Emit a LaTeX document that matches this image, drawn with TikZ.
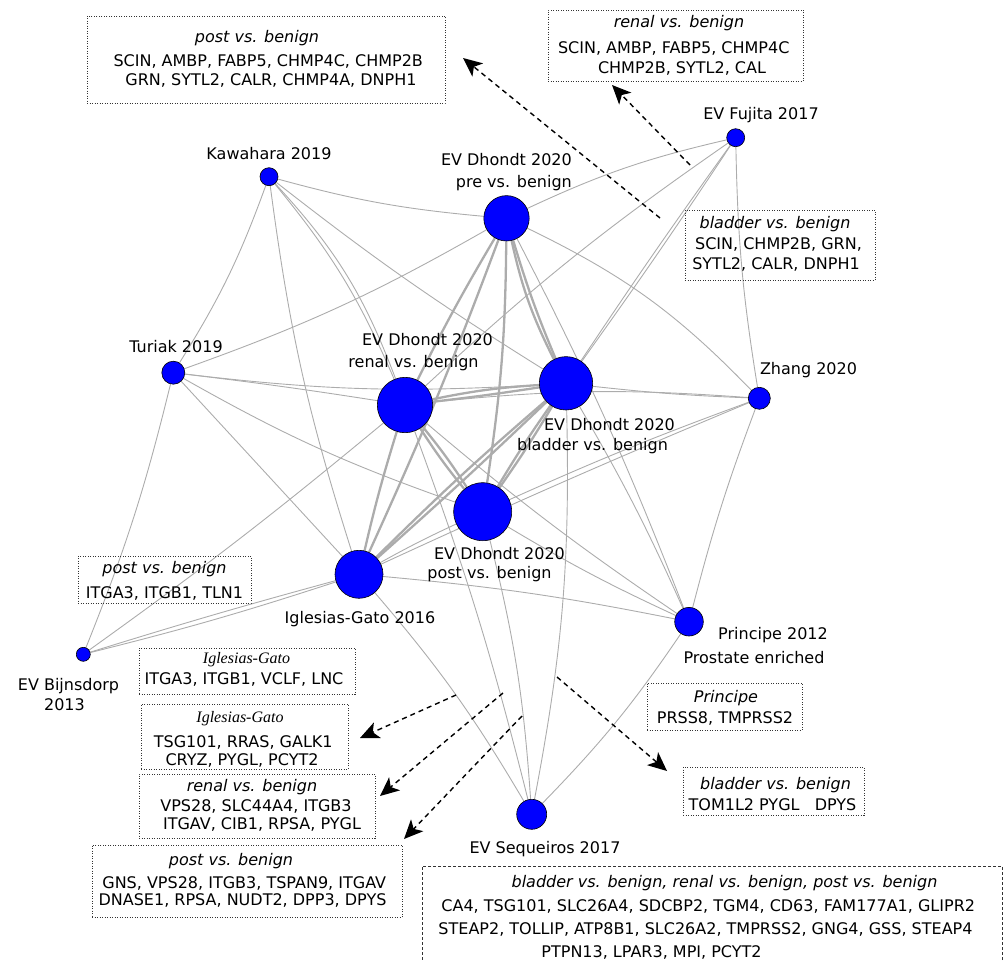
\documentclass[tikz,border=0pt]{standalone}
\usepackage{fontspec}
\setmainfont{DejaVu Sans}
\newfontfamily\serifit{Liberation Serif}
\usetikzlibrary{arrows.meta}
\pgfdeclarelayer{bg}
\pgfsetlayers{bg,main}
\definecolor{edgegray}{RGB}{172,172,172}
\definecolor{nodeblue}{RGB}{0,0,255}
\newcommand{\Ln}[2]{\hspace*{#1pt}\rule[-4pt]{0pt}{16pt}#2\hspace*{-#1pt}}
\newcommand{\Ti}[2]{\Ln{#1}{{\itshape #2}}}
\newcommand{\Tp}[1]{\rule{0pt}{#1pt}}
\newcommand{\Bt}[1]{\rule[-#1pt]{0pt}{#1pt}}
\newcommand{\IG}{{\serifit\itshape Iglesias-Gato}}
\tikzset{
  vtx/.style={circle, draw=black, line width=0.6pt, fill=nodeblue, inner sep=0pt},
  e/.style={draw=edgegray, line width=0.9pt},
  E/.style={draw=edgegray, line width=2.3pt},
  lbl/.style={inner sep=0pt, align=center},
  gbox/.style={draw=black!80, dash pattern=on 1pt off 1.5pt, line width=0.8pt, inner sep=0pt, align=center},
  dbox/.style={draw=black!80, dash pattern=on 3pt off 2pt, line width=0.9pt, inner sep=0pt, align=center},
  arr/.style={-{Stealth[length=19pt,width=17pt,inset=5pt]}, dash pattern=on 5pt off 4pt, line width=1.4pt, draw=black}
}
\begin{document}
\begin{tikzpicture}[x=1pt,y=-1pt]
\clip (0,0) rectangle (1003,961);
% ---------- vertices ----------
\node[vtx, minimum size=45.4pt] (pre) at (506.5,218.3) {};
\node[vtx, minimum size=55.4pt] (ren) at (405,405) {};
\node[vtx, minimum size=53.4pt] (bla) at (566,383.3) {};
\node[vtx, minimum size=58pt]   (pst) at (482.7,511.7) {};
\node[vtx, minimum size=48pt]   (igl) at (359,574.3) {};
\node[vtx, minimum size=18pt]   (kaw) at (269,176.7) {};
\node[vtx, minimum size=23pt]   (tur) at (173.3,372.7) {};
\node[vtx, minimum size=18pt]   (fuj) at (735.7,137.7) {};
\node[vtx, minimum size=22pt]   (zha) at (759.3,398.3) {};
\node[vtx, minimum size=28.6pt] (pri) at (689,621.7) {};
\node[vtx, minimum size=30pt]   (seq) at (531.7,814.3) {};
\node[vtx, minimum size=14pt]   (bij) at (83.3,654.3) {};
% ---------- edges ----------
\begin{pgfonlayer}{bg}
\path[e] (kaw) to[bend right=5] (pre);
\path[e] (kaw) to[bend left=6] (tur);
\path[e] (kaw) to[bend left=8] (ren);
\path[e] (kaw) to[bend left=11] (ren);
\path[e] (kaw) to[bend right=3] (bla);
\path[e] (kaw) to[bend right=5] (igl);
\path[e] (tur) to[bend right=5] (pre);
\path[e] (tur) to[bend left=1] (ren);
\path[e] (tur) to[bend right=5] (bla);
\path[e] (tur) to[bend right=5] (pst);
\path[e] (tur) to (igl);
\path[e] (tur) to[bend left=4] (bij);
\path[e] (bij) to[bend right=2] (ren);
\path[e] (bij) to[bend left=1] (igl);
\path[e] (bij) to[bend right=2] (igl);
\path[e] (fuj) to[bend right=6] (pre);
\path[e] (fuj) to[bend left=1] (bla);
\path[e] (fuj) to[bend right=1] (bla);
\path[e] (fuj) to[bend right=4] (zha);
\path[e] (fuj) to[bend right=4] (ren);
\path[e] (pre) to[bend left=10] (zha);
\path[e] (pre) to[bend left=3] (pri);
\path[e] (ren) to[bend left=5] (zha);
\path[e] (ren) to[bend right=3] (pri);
\path[e] (ren) to[bend left=3] (seq);
\path[e] (bla) to[bend right=2] (zha);
\path[e] (bla) to[bend left=3] (pri);
\path[e] (bla) to[bend left=6] (seq);
\path[e] (pst) to[bend left=5] (seq);
\path[e] (pst) to[bend left=2] (zha);
\path[e] (pst) to[bend right=3] (pri);
\path[e] (igl) to[bend left=3] (pri);
\path[e] (igl) to[bend left=5] (seq);
\path[e] (igl) to[bend left=1] (zha);
\path[e] (igl) to[bend left=2] (pst);
\path[e] (zha) to[bend right=3] (pri);
\path[e] (pri) to[bend left=5] (seq);
\path[E] (pre) to[bend right=2] (ren);
\path[E] (pre) to[bend left=2] (igl);
\path[E] (pre) to[bend left=4] (pst);
\path[E] (pre) to[bend right=3] (bla);
\path[E] (pre) to[bend right=7] (bla);
\path[E] (ren) to[bend left=4] (bla);
\path[E] (ren) to[bend right=1] (bla);
\path[E] (ren) to[bend left=3] (pst);
\path[E] (ren) to[bend right=3] (pst);
\path[E] (ren) to[bend right=2] (igl);
\path[E] (bla) to[bend left=2] (pst);
\path[E] (bla) to[bend right=2] (pst);
\path[E] (bla) to[bend right=2] (igl);
\path[E] (bla) to[bend left=1] (igl);
\end{pgfonlayer}
% ---------- vertex labels ----------
\node[lbl, font=\fontsize{16pt}{22pt}\selectfont] (lkaw) at (269,155) {\Ln{0}{Kawahara 2019}};
\node[lbl, font=\fontsize{16pt}{22pt}\selectfont] (ltur) at (176,348) {\Ln{0}{Turiak 2019}};
\node[lbl, font=\fontsize{16pt}{22pt}\selectfont] (lfuj) at (761,115) {\Ln{0}{EV Fujita 2017}};
\node[lbl, font=\fontsize{16pt}{22pt}\selectfont] (lzha) at (808.5,370) {\Ln{0}{Zhang 2020}};
\node[lbl, font=\fontsize{16pt}{22pt}\selectfont] (ligl) at (360,619) {\Ln{0}{Iglesias-Gato 2016}};
\node[lbl, font=\fontsize{16pt}{22pt}\selectfont] (lseq) at (545,849) {\Ln{0}{EV Sequeiros 2017}};
\node[lbl, align=right, anchor=east, font=\fontsize{16pt}{22pt}\selectfont] (lpre) at (572,172) {\Ln{0}{EV Dhondt 2020}\\\Ln{0}{pre vs. benign}};
\node[lbl, font=\fontsize{16pt}{22pt}\selectfont] (lren) at (420.5,352) {\Ln{7}{EV Dhondt 2020}\\\Ln{-7}{renal vs. benign}};
\node[lbl, font=\fontsize{16pt}{20pt}\selectfont] (lbla) at (601,436) {\Ln{8.5}{EV Dhondt 2020}\\\Ln{-8.5}{bladder vs. benign}};
\node[lbl, font=\fontsize{16pt}{19pt}\selectfont] (lpst) at (494.5,564.5) {\Ln{5}{EV Dhondt 2020}\\\Ln{-5}{post vs. benign}};
\node[lbl, font=\fontsize{16pt}{24pt}\selectfont] (lpri) at (763.5,647) {\Ln{9.5}{Principe 2012}\\\Ln{-9.5}{Prostate enriched}};
\node[lbl, font=\fontsize{16pt}{20pt}\selectfont] (lbij) at (66.5,696) {\Ln{2}{EV Bijnsdorp}\\\Ln{-2}{2013}};
% ---------- gene boxes ----------
\node[gbox, minimum width=358pt, minimum height=87pt, font=\fontsize{16pt}{19pt}\selectfont] (bxA) at (266,59.5)
  {\Ti{-9}{post vs. benign}\\[5pt]\Ln{4.5}{SCIN, AMBP, FABP5, CHMP4C, CHMP2B}\\\Ln{5}{GRN, SYTL2, CALR, CHMP4A, DNPH1}};
\node[gbox, minimum width=255pt, minimum height=71pt, font=\fontsize{16pt}{20pt}\selectfont] (bxB) at (675.5,45.5)
  {\Ti{3.5}{\Tp{13}renal vs. benign}\\[6pt]\Ln{-3.5}{SCIN, AMBP, FABP5, CHMP4C}\\\Ln{6.5}{CHMP2B, SYTL2, CAL}};
\node[gbox, minimum width=190pt, minimum height=70pt, font=\fontsize{16pt}{20pt}\selectfont] (bxC) at (780,245)
  {\Ti{-5}{bladder vs. benign}\\[1pt]\Ln{-3}{SCIN, CHMP2B, GRN,}\\\Ln{-4}{SYTL2, CALR, DNPH1\Bt{5}}};
\node[gbox, minimum width=173pt, minimum height=47pt, font=\fontsize{16pt}{25pt}\selectfont] (bxD) at (164.5,579.5)
  {\Ti{0}{\Tp{16}post vs. benign}\\\Ln{0}{ITGA3, ITGB1, TLN1}};
\node[gbox, minimum width=216pt, minimum height=46pt, font=\fontsize{16pt}{21pt}\selectfont] (bxE) at (247,671)
  {\Ln{-0.5}{\IG}\\\Ln{-3}{ITGA3, ITGB1, VCLF, LNC\Bt{7}}};
\node[gbox, minimum width=207pt, minimum height=63pt, font=\fontsize{16pt}{18pt}\selectfont] (bxF) at (244.5,736.5)
  {\Ln{-4.5}{\Tp{18}\IG}\\[7pt]\Ln{-2.5}{TSG101, RRAS, GALK1}\\\Ln{-2.5}{CRYZ, PYGL, PCYT2}};
\node[gbox, minimum width=236pt, minimum height=64pt, font=\fontsize{16pt}{18pt}\selectfont] (bxG) at (257,806)
  {\Ti{-5}{renal vs. benign}\\[2pt]\Ln{-2}{VPS28, SLC44A4, ITGB3}\\\Ln{5}{ITGAV, CIB1, RPSA, PYGL}};
\node[gbox, minimum width=310pt, minimum height=72pt, font=\fontsize{16pt}{17pt}\selectfont] (bxH) at (247,881)
  {\Ti{-16}{post vs. benign}\\[6pt]\Ln{-5.5}{GNS, VPS28, ITGB3, TSPAN9, ITGAV}\\\Ln{-4.5}{DNASE1, RPSA, NUDT2, DPP3, DPYS}};
\node[gbox, minimum width=155pt, minimum height=47pt, font=\fontsize{16pt}{21pt}\selectfont] (bxI) at (724.5,706.5)
  {\Ti{1.5}{\Tp{16}Principe}\\\Ln{0.5}{PRSS8, TMPRSS2}};
\node[gbox, minimum width=181pt, minimum height=48pt, font=\fontsize{16pt}{21pt}\selectfont] (bxJ) at (773.5,791)
  {\Ti{2}{\Tp{21}bladder vs. benign}\\\Ln{-1}{TOM1L2 PYGL\ \ \ DPYS}};
\node[dbox, minimum width=580pt, minimum height=134pt, font=\fontsize{16pt}{23pt}\selectfont] (bxK) at (712,933)
  {\Ti{12.5}{bladder vs. benign, renal vs. benign, post vs. benign}\\[1pt]\Ln{-7.5}{CA4, TSG101, SLC26A4, SDCBP2, TGM4, CD63, FAM177A1, GLIPR2}\\\Ln{-13}{STEAP2, TOLLIP, ATP8B1, SLC26A2, TMPRSS2, GNG4, GSS, STEAP4}\\\Ln{-60.5}{PTPN13, LPAR3, MPI, PCYT2\Bt{34}}};
% ---------- dashed arrows ----------
\coordinate (a1s) at (660,218); \coordinate (a1e) at (463,58);
\coordinate (a2s) at (690,165); \coordinate (a2e) at (612,85);
\coordinate (a3s) at (456,695); \coordinate (a3e) at (360,738);
\coordinate (a4s) at (503,693); \coordinate (a4e) at (380,796);
\coordinate (a5s) at (522,716); \coordinate (a5e) at (404,839);
\coordinate (a6s) at (557,677); \coordinate (a6e) at (667,771);
\draw[arr] (a1s) -- (a1e);
\draw[arr] (a2s) -- (a2e);
\draw[arr] (a3s) -- (a3e);
\draw[arr] (a4s) -- (a4e);
\draw[arr] (a5s) -- (a5e);
\draw[arr] (a6s) -- (a6e);
\end{tikzpicture}
\end{document}
